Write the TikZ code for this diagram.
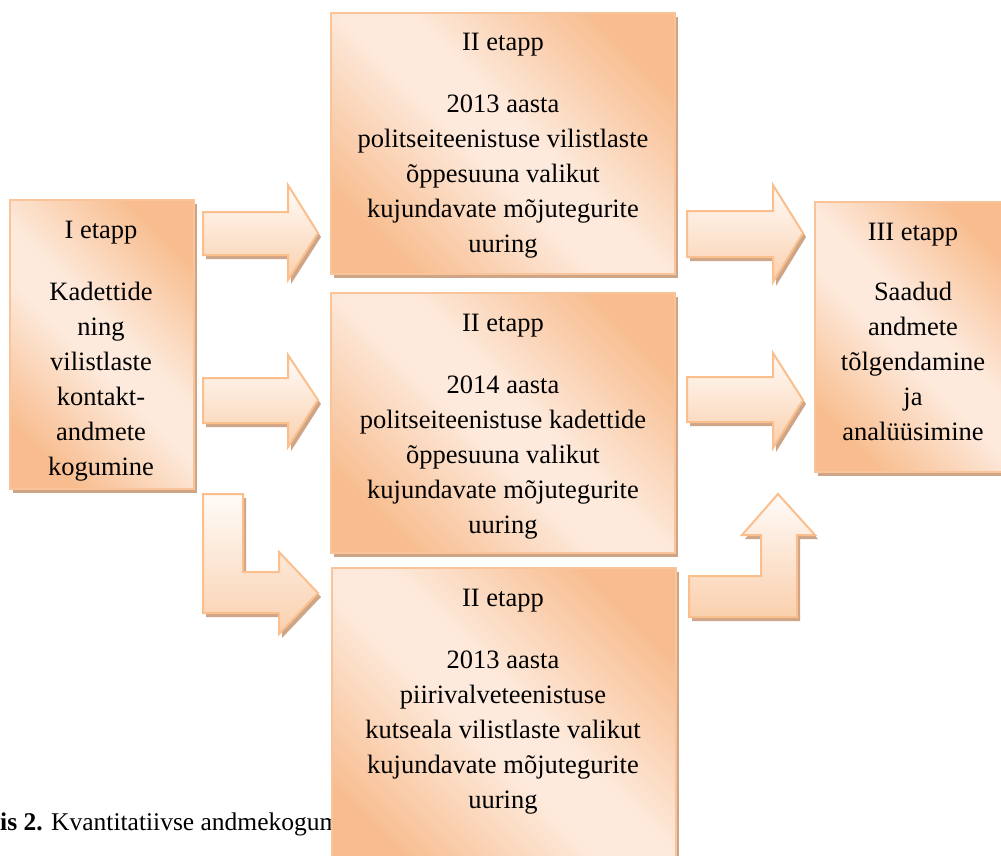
\documentclass[tikz,border=0pt]{standalone}
\usepackage{fontspec}
\setmainfont{Liberation Serif}
\usetikzlibrary{shadows}
\definecolor{boxdark}{HTML}{F8BC8E}
\definecolor{boxlite}{HTML}{FDEADC}
\definecolor{boxedge}{HTML}{FAC49A}
\definecolor{shadowc}{HTML}{CFA588}
\definecolor{arrtop}{HTML}{FFFBF8}
\definecolor{arrbot}{HTML}{FAD0AE}
\definecolor{arredge}{HTML}{FABF8C}
\pgfdeclarehorizontalshading{boxshade}{100bp}{color(0bp)=(boxdark); color(24bp)=(boxdark); color(46bp)=(boxlite); color(54bp)=(boxlite); color(76bp)=(boxdark); color(100bp)=(boxdark)}
\tikzset{
  box/.style={rectangle, draw=boxedge, line width=2pt, shading=boxshade, shading angle=45,
    inner sep=0pt, drop shadow={shadow xshift=3pt, shadow yshift=-4pt, fill=shadowc, opacity=1}},
  blockarrow/.style={draw=arredge, line width=2pt, line join=miter, top color=arrtop, bottom color=arrbot,
    drop shadow={shadow xshift=3pt, shadow yshift=-4pt, fill=shadowc, opacity=1}},
  txt/.style={inner sep=0pt, font=\fontsize{26.5pt}{35pt}\selectfont, text=black},
  captxt/.style={inner sep=0pt, font=\fontsize{25.5pt}{30pt}\selectfont, text=black}
}
\newcommand{\lines}[1]{\begin{tabular}[t]{@{}c@{}}#1\end{tabular}}
\begin{document}
\begin{tikzpicture}[x=1pt, y=-1pt]
\useasboundingbox (0,0) rectangle (1001,855);
\clip (0,0) rectangle (1001,855);
\fill[white] (0,0) rectangle (1001,855);

% caption (partly hidden behind the lowest box)
\node[captxt, anchor=base west] (cap) at (0,830) {\textbf{is 2.} Kvantitatiivse andmekogum};

% boxes
\node[box, minimum width=184pt, minimum height=289pt] (b1) at (102,344.5) {};
\node[box, minimum width=344pt, minimum height=261pt] (b2a) at (503,143.5) {};
\node[box, minimum width=344pt, minimum height=260pt] (b2b) at (503,423) {};
\node[box, minimum width=344pt, minimum height=312pt] (b2c) at (504,724) {};
\node[box, minimum width=196pt, minimum height=270pt] (b3) at (913,337) {};

% block arrows
\draw[blockarrow] (203,212) -- (288,212) -- (288,185) -- (318,233) -- (288,280) -- (288,255) -- (203,255) -- cycle;
\draw[blockarrow] (203,378) -- (288,378) -- (288,355) -- (318,400) -- (288,447) -- (288,423) -- (203,423) -- cycle;
\draw[blockarrow] (203,494) -- (243,494) -- (243,572) -- (279,572) -- (279,552) -- (318,593) -- (279,634) -- (279,613) -- (203,613) -- cycle;
\draw[blockarrow] (687,211) -- (773,211) -- (773,185) -- (803,233) -- (773,282) -- (773,257) -- (687,257) -- cycle;
\draw[blockarrow] (687,377) -- (773,377) -- (773,353) -- (803,400) -- (773,448) -- (773,422) -- (687,422) -- cycle;
\draw[blockarrow] (689,576) -- (761,576) -- (761,535) -- (742,535) -- (778,494) -- (815,535) -- (797,535) -- (797,617) -- (689,617) -- cycle;

% texts
\node[txt, anchor=base] (t1) at (101,238) {\lines{I etapp\\[27pt]Kadettide\\ning\\vilistlaste\\kontakt-\\andmete\\kogumine}};
\node[txt, anchor=base] (t2a) at (503,50) {\lines{II etapp\\[27pt]2013 aasta\\politseiteenistuse vilistlaste\\õppesuuna valikut\\kujundavate mõjutegurite\\uuring}};
\node[txt, anchor=base] (t2b) at (503,331) {\lines{II etapp\\[27pt]2014 aasta\\politseiteenistuse kadettide\\õppesuuna valikut\\kujundavate mõjutegurite\\uuring}};
\node[txt, anchor=base] (t2c) at (503,606) {\lines{II etapp\\[27pt]2013 aasta\\piirivalveteenistuse\\kutseala vilistlaste valikut\\kujundavate mõjutegurite\\uuring}};
\node[txt, anchor=base] (t3) at (913,240) {\lines{III etapp\\[25pt]Saadud\\andmete\\tõlgendamine\\ja\\analüüsimine}};
\end{tikzpicture}
\end{document}
